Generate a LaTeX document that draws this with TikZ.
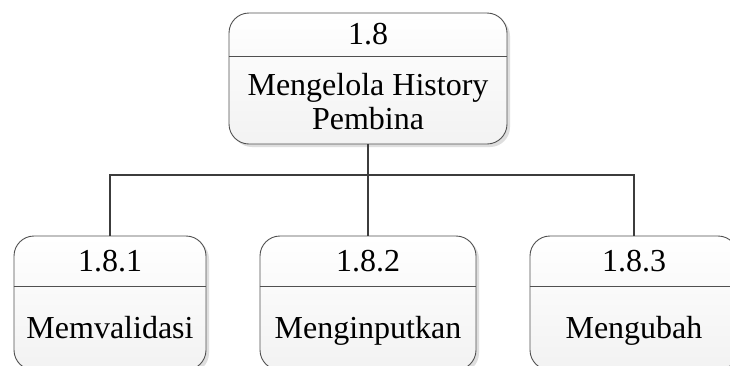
\documentclass[tikz,border=0pt]{standalone}
\usepackage{fontspec}
\setmainfont{Liberation Serif}
\definecolor{boxline}{RGB}{80,80,80}
\definecolor{linecol}{RGB}{60,60,60}
\definecolor{shadowcol}{RGB}{222,222,222}
\begin{document}
\begin{tikzpicture}[x=1pt,y=-1pt,
  proc/.style={draw=boxline, line width=0.9pt, rounded corners=20pt,
    top color=white, bottom color=gray!10, inner sep=0pt},
  shadowbox/.style={fill=shadowcol, rounded corners=20pt},
  lbl/.style={font=\fontsize{32}{34}\selectfont, anchor=base, inner sep=0pt, text=black},
  conn/.style={draw=linecol, line width=2.4pt},
  divider/.style={draw=boxline, line width=0.9pt}]
\useasboundingbox (0,0) rectangle (730,365);
\clip (0,0) rectangle (730,365);
\fill[white] (0,0) rectangle (730,365);

% soft drop shadows
\fill[shadowbox] (232,16) rectangle (510,147);
\fill[shadowbox] (17,239) rectangle (209,373);
\fill[shadowbox] (263,239) rectangle (479,373);
\fill[shadowbox] (533,239) rectangle (741,373);

% process boxes
\node[proc, minimum width=278pt, minimum height=131pt] (top) at (368,78.5) {};
\node[proc, minimum width=192pt, minimum height=134pt] (b1) at (110,303) {};
\node[proc, minimum width=216pt, minimum height=134pt] (b2) at (368,303) {};
\node[proc, minimum width=208pt, minimum height=134pt] (b3) at (634,303) {};

% header dividers
\draw[divider] (top.west |- 0,56) -- (top.east |- 0,56);
\draw[divider] (b1.west |- 0,286) -- (b1.east |- 0,286);
\draw[divider] (b2.west |- 0,286) -- (b2.east |- 0,286);
\draw[divider] (b3.west |- 0,286) -- (b3.east |- 0,286);

% labels
\node[lbl] (n0) at (368,44) {1.8};
\node[lbl] (m0a) at (368,95) {Mengelola History};
\node[lbl] (m0b) at (368,129) {Pembina};
\node[lbl] (n1) at (110,271) {1.8.1};
\node[lbl] (m1) at (110,338) {Memvalidasi};
\node[lbl] (n2) at (368,271) {1.8.2};
\node[lbl] (m2) at (368,338) {Menginputkan};
\node[lbl] (n3) at (634,271) {1.8.3};
\node[lbl] (m3) at (634,338) {Mengubah};

% decomposition connectors
\coordinate (bus) at (0,175);
\draw[conn] (top.south) -- (b2.north);
\draw[conn] (b1.north) -- (b1.north |- bus) -- (b3.north |- bus) -- (b3.north);
\end{tikzpicture}
\end{document}
